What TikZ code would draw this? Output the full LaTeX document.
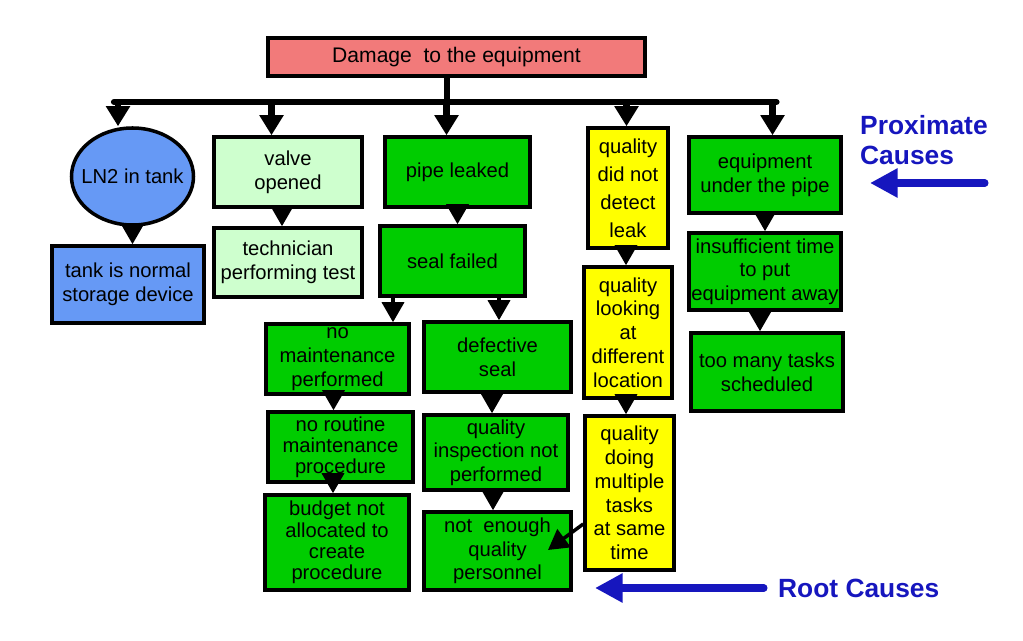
\documentclass[tikz,border=0pt]{standalone}
\usepackage{amsmath}
\usepackage{xcolor}
\usepackage{fontspec}
\setmainfont{Liberation Sans}
\usepackage{tikz}
\usetikzlibrary{arrows.meta,shapes.geometric}

\definecolor{dmgred}{RGB}{242,122,122}
\definecolor{lnblue}{RGB}{102,153,245}
\definecolor{palegreen}{RGB}{206,255,206}
\definecolor{leafgreen}{RGB}{0,204,0}
\definecolor{qyellow}{RGB}{255,255,0}
\definecolor{causeblue}{RGB}{22,22,190}

\begin{document}
\begin{tikzpicture}[
	box/.style={draw=black,line width=2pt,minimum width=2.9cm,minimum height=1.4cm,align=center,inner sep=1pt,font=\fontsize{11.5}{13.5}\selectfont},
	leaf/.style={box,fill=leafgreen},
	qual/.style={box,fill=qyellow,minimum width=1.7cm},
	flow/.style={line width=2pt,-{Triangle[length=0.4cm,width=0.44cm]}},
	drop/.style={line width=3.5pt,-{Triangle[length=0.4cm,width=0.46cm]}},
	bluearrow/.style={line width=4pt,line cap=round,color=causeblue,-{Triangle[length=0.55cm,width=0.55cm]}},
	causetext/.style={anchor=west,align=left,color=causeblue,font=\fontsize{15}{17}\selectfont\bfseries}
	]
	\useasboundingbox (0,0) rectangle (20.46,-12.82);
	
	\node[box,fill=dmgred,minimum width=7.54cm,minimum height=0.76cm,font=\fontsize{12}{14}\selectfont] (dmg) at (9.13,-1.14) {Damage\ \ to the equipment};
	
	\coordinate (stem) at (8.94,-2.04);%top joint
	\coordinate (bl) at (2.28,-2.04);%bus left
	\coordinate (br) at (15.53,-2.04);%bus right
	\coordinate (d1) at (2.36,-2.04);
	\coordinate (d2) at (5.43,-2.04);
	\coordinate (d3) at (8.93,-2.04);
	\coordinate (d4) at (12.53,-2.04);
	\coordinate (d5) at (15.45,-2.04);
	
	% proximate causes
	\node[draw=black,line width=2pt,ellipse,fill=lnblue,minimum width=2.44cm,minimum height=1.94cm,inner xsep=-0.19cm,inner ysep=0pt,font=\fontsize{11.5}{13.5}\selectfont] (ln2) at (2.65,-3.53) {LN2 in tank};
	\node[box,fill=lnblue,minimum width=3.04cm,minimum height=1.54cm] (tank) at (2.56,-5.69) {tank is normal\\storage device};
	\node[box,fill=palegreen,minimum width=2.96cm] (valve) at (5.76,-3.44) {valve\\opened};
	\node[box,fill=palegreen,minimum width=2.96cm,minimum height=1.38cm] (tech) at (5.76,-5.25) {technician\\performing test};
	\node[leaf] (pipe) at (9.15,-3.44) {pipe leaked};
	\node[leaf] (seal) at (9.05,-5.22) {seal failed};
	\node[leaf,minimum width=2.86cm] (nomaint) at (6.75,-7.18) {no\\maintenance\\performed};
	\node[leaf,minimum width=2.94cm] (defect) at (9.95,-7.14) {defective\\seal};
	\node[leaf,font=\fontsize{11.5}{12}\selectfont] (noroutine) at (6.81,-8.94) {no routine\\maintenance\\procedure};
	\node[leaf,minimum width=2.88cm,minimum height=1.5cm] (inspect) at (9.92,-9.05) {quality\\inspection not\\performed};
	\node[leaf,minimum width=2.88cm,minimum height=1.9cm,font=\fontsize{11.5}{12.2}\selectfont] (budget) at (6.74,-10.85) {budget not\\allocated to\\create\\procedure};
	\node[leaf,minimum width=2.94cm,minimum height=1.56cm] (personnel) at (9.95,-11.02) {not\ \ enough\\quality\\personnel};
	\node[qual,minimum width=1.6cm,minimum height=2.4cm,font=\fontsize{11.5}{16}\selectfont] (detect) at (12.56,-3.76) {quality\\did not\\detect\\leak};
	\node[qual,minimum width=1.76cm,minimum height=2.62cm] (looking) at (12.56,-6.65) {quality\\looking\\at\\different\\location};
	\node[qual,minimum width=1.78cm,minimum height=3.08cm] (multiple) at (12.59,-9.86) {quality\\doing\\multiple\\tasks\\at same\\time};
	\node[leaf,minimum width=3.04cm,minimum height=1.52cm] (equip) at (15.3,-3.5) {equipment\\under the pipe};
	\node[leaf,minimum width=3.04cm,minimum height=1.54cm] (insuff) at (15.3,-5.43) {insufficient time\\to put\\equipment away};
	\node[leaf,minimum width=3.04cm,minimum height=1.56cm] (toomany) at (15.34,-7.44) {too many tasks\\scheduled};
	
	\coordinate (pq) at (10.96,-11.0);%tip in personnel
	
	% tree
	\draw[line width=3.5pt] (stem |- dmg.south) -- (stem);
	\draw[line width=3.5pt,line cap=round] (bl) -- (br);
	\draw[drop] (d1) -- (d1 |- ln2.north);
	\draw[drop] (d2) -- (d2 |- valve.north);
	\draw[drop] (d3) -- (d3 |- pipe.north);
	\draw[drop] (d4) -- (d4 |- detect.north);
	\draw[drop] (d5) -- (d5 |- equip.north);
	
	\draw[flow] (ln2.south) -- (ln2.south |- tank.north);
	\draw[flow] ([xshift=-0.12cm]valve.south) -- ([xshift=-0.12cm]valve.south |- tech.north);
	\draw[flow] (pipe.south) -- (pipe.south |- seal.north);
	\draw[flow] ([xshift=-1.19cm]seal.south) -- ([xshift=-1.19cm]seal.south |- nomaint.north);
	\draw[flow] ([xshift=0.93cm]seal.south) -- ([xshift=0.93cm]seal.south |- defect.north);
	\draw[flow] ([xshift=-0.08cm]nomaint.south) -- ([xshift=-0.08cm]nomaint.south |- noroutine.north);
	\draw[flow] ([xshift=-0.15cm]noroutine.south) -- ([xshift=-0.15cm]noroutine.south |- budget.north);
	\draw[flow] ([xshift=-0.11cm]defect.south) -- ([xshift=-0.11cm]defect.south |- inspect.north);
	\draw[flow] ([xshift=-0.06cm]inspect.south) -- ([xshift=-0.06cm]inspect.south |- personnel.north);
	\draw[flow] ([xshift=-0.04cm]detect.south) -- ([xshift=-0.04cm]detect.south |- looking.north);
	\draw[flow] ([xshift=-0.04cm]looking.south) -- ([xshift=-0.04cm]looking.south |- multiple.north);
	\draw[flow] ([yshift=-0.62cm]multiple.west) -- (pq);
	\draw[flow] (equip.south) -- (equip.south |- insuff.north);
	\draw[flow] ([xshift=-0.1cm]insuff.south) -- ([xshift=-0.1cm]insuff.south |- toomany.north);
	
	% labels
	\node[causetext] (prox) at (17.08,-2.8) {Proximate\\Causes};
	\node[causetext] (root) at (15.44,-11.76) {Root Causes};
	\coordinate (pxtail) at (19.7,-3.66);
	\coordinate (pxtip) at (17.4,-3.66);
	\coordinate (rttip) at (11.9,-11.76);
	\draw[bluearrow] (pxtail) -- (pxtip);
	\draw[bluearrow] ([xshift=-0.16cm]root.west) -- (rttip);
\end{tikzpicture}
\end{document}
